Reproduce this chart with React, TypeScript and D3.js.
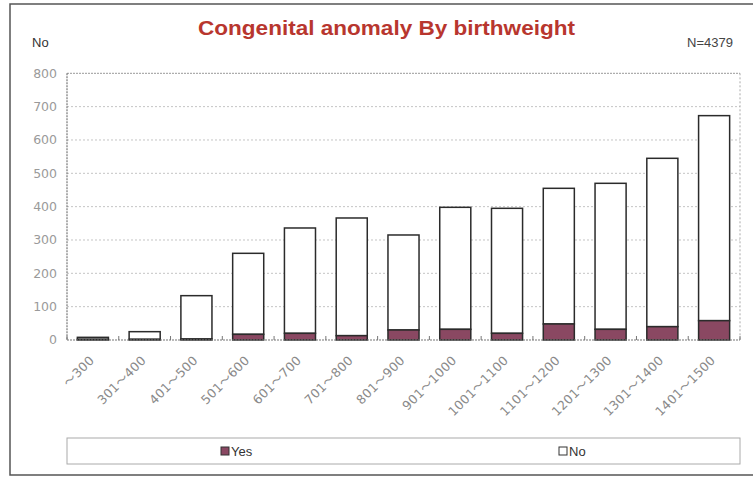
import React from "react";
import * as d3 from "d3";

const categories = ["～300", "301～400", "401～500", "501～600", "601～700", "701～800", "801～900", "901～1000", "1001～1100", "1101～1200", "1201～1300", "1301～1400", "1401～1500"];
const yesValues = [2, 2, 3, 17, 20, 13, 30, 32, 20, 48, 32, 40, 58];
const noValues = [6, 23, 130, 243, 316, 353, 285, 366, 375, 407, 438, 505, 615];
const yTicks = [0, 100, 200, 300, 400, 500, 600, 700, 800];
const seriesNames = ["Yes", "No"];

const W = 753;
const H = 477;
const M = { left: 67, right: 740, top: 73.3, bottom: 340 };

export default function App() {
  const x = d3.scaleBand<string>().domain(categories).range([M.left, M.right]).paddingInner(0.4).paddingOuter(0.2);
  const y = d3.scaleLinear().domain([0, 800]).range([M.bottom, M.top]);
  const bw = x.bandwidth();
  const yesColor = "#8a4862";
  const stroke = "#2b2b2b";
  const bounds = d3.range(categories.length + 1).map((i) => M.left + i * ((M.right - M.left) / categories.length));

  return (
    <svg width={W} height={H} style={{ position: "absolute", left: 0, top: 0, background: "#fff" }} fontFamily="DejaVu Sans, sans-serif">
      <rect x={0} y={0} width={W} height={H} fill="#fff" />
      <rect x={10} y={4} width={760} height={471} fill="none" stroke="#555" strokeWidth={1.5} />
      <text x={386.5} y={35} textAnchor="middle" fontFamily="Liberation Sans, sans-serif" fontWeight="bold" fontSize={21} fill="#b8362e" textLength={377} lengthAdjust="spacingAndGlyphs">
        Congenital anomaly By birthweight
      </text>
      <text x={32} y={47} fontSize={13} fill="#333" fontFamily="Liberation Sans, sans-serif">No</text>
      <text x={733} y={47} fontSize={13} fill="#444" textAnchor="end" fontFamily="Liberation Sans, sans-serif">N=4379</text>
      {yTicks.map((t) => (
        <g key={t}>
          {t > 0 && t < 800 && (
            <line x1={M.left} x2={M.right} y1={y(t)} y2={y(t)} stroke="#c4c4c4" strokeDasharray="2,2" strokeWidth={1} />
          )}
          <text x={57} y={y(t)} dy="0.35em" textAnchor="end" fontSize={12.5} fill="#9a9a9a">{t}</text>
        </g>
      ))}
      <line x1={M.left} x2={M.right} y1={M.top} y2={M.top} stroke="#999" strokeDasharray="2,1" />
      <line x1={M.right} x2={M.right} y1={M.top} y2={M.bottom} stroke="#aaa" strokeDasharray="2,2" />
      <line x1={M.left} x2={M.left} y1={M.top} y2={M.bottom} stroke="#777" strokeDasharray="2,1" strokeWidth={1.2} />
      {categories.map((c, i) => {
        const x0 = x(c) as number;
        const yesTop = y(yesValues[i]);
        const totTop = y(yesValues[i] + noValues[i]);
        return (
          <g key={c}>
            <rect x={x0} y={totTop} width={bw} height={yesTop - totTop} fill="#fff" stroke={stroke} strokeWidth={1.5} />
            <rect x={x0} y={yesTop} width={bw} height={y(0) - yesTop} fill={yesColor} stroke={stroke} strokeWidth={1.5} />
          </g>
        );
      })}
      <line x1={M.left} x2={M.right} y1={M.bottom} y2={M.bottom} stroke="#777" strokeDasharray="2,1" strokeWidth={1.2} />
      {bounds.map((b, i) => (
        <line key={i} x1={b} x2={b} y1={M.bottom} y2={M.bottom - 4} stroke="#777" />
      ))}
      {categories.map((c) => {
        const cx = (x(c) as number) + bw / 2;
        return (
          <text key={c} transform={`translate(${cx - 1},${358}) rotate(-45)`} textAnchor="end" dy="0.35em" fontSize={12.5} letterSpacing={0.3} fill="#8a8a8a" fontFamily="DejaVu Sans, Noto Sans CJK JP, sans-serif">
            {c}
          </text>
        );
      })}
      <rect x={67} y={438} width={673} height={26} fill="#fff" stroke="#aaa" strokeWidth={1} />
      {seriesNames.map((s, i) => {
        const lx = i === 0 ? 221 : 559;
        return (
          <g key={s}>
            <rect x={lx} y={447} width={8} height={8} fill={i === 0 ? yesColor : "#fff"} stroke="#333" strokeWidth={1} />
            <text x={lx + 10} y={456} fontSize={13} fill="#333" fontFamily="Liberation Sans, sans-serif">{s}</text>
          </g>
        );
      })}
    </svg>
  );
}
